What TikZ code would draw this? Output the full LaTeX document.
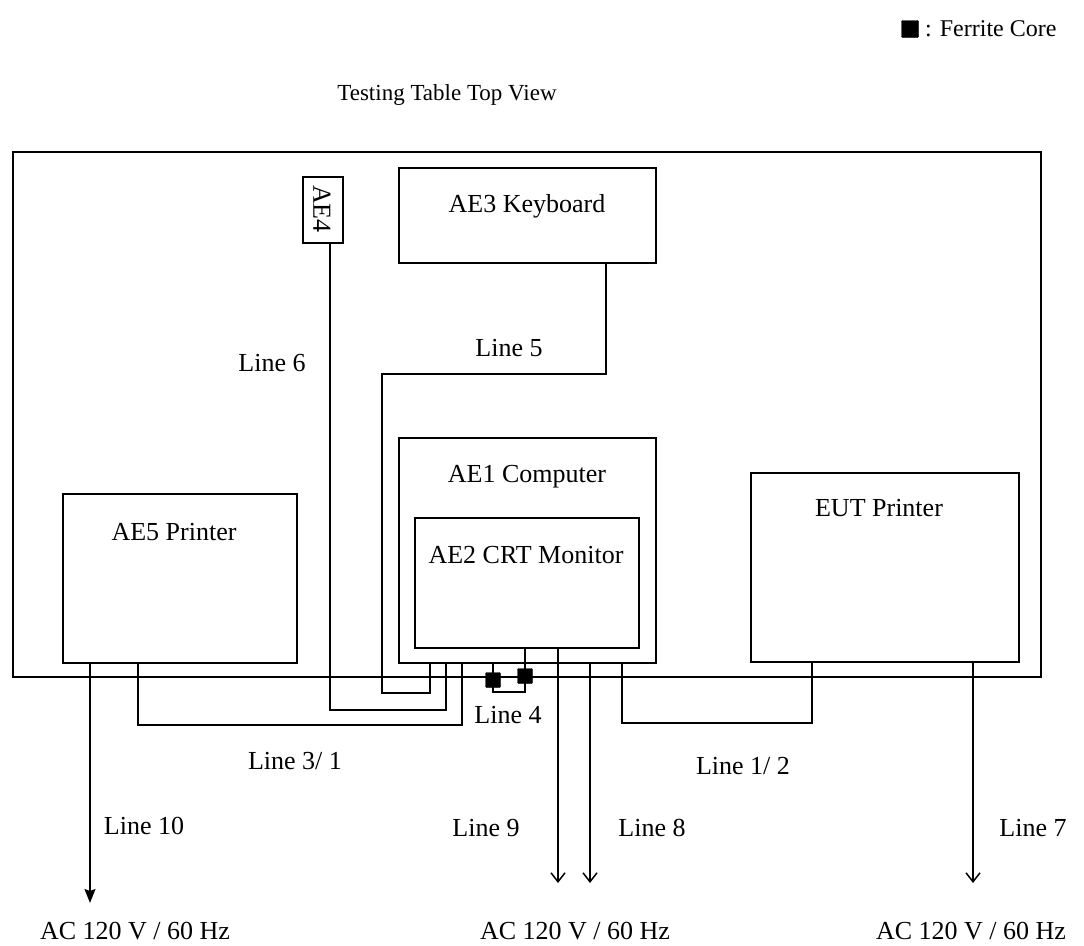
\documentclass[tikz,border=0pt]{standalone}
\usepackage{fontspec}
\setmainfont{Liberation Serif}
\usetikzlibrary{arrows.meta}
\begin{document}
\begin{tikzpicture}[x=1pt,y=-1pt,
  box/.style={draw,line width=1.5pt,inner sep=0pt,anchor=north west},
  wire/.style={line width=1.5pt},
  arr/.style={line width=1.5pt,-{Straight Barb[length=9pt,width=14pt,line width=1.5pt]}},
  farr/.style={line width=1.5pt,-{Stealth[length=14pt,width=11pt,inset=2pt]}},
  txt/.style={font=\fontsize{26}{30}\selectfont,inner sep=0pt},
  core/.style={fill=black,draw=black,minimum size=15pt,inner sep=0pt,rounded corners=1pt}]
\useasboundingbox (0,0) rectangle (1084,945);
% legend and title
\node[core,minimum size=17pt] (lcore) at (910,29) {};
\node[txt,anchor=west,font=\fontsize{24}{28}\selectfont] (legend) at (925,29) {: Ferrite Core};
\node[txt,font=\fontsize{23}{28}\selectfont] (title) at (447,95) {Testing Table Top View};
% table
\node[box,minimum width=1028pt,minimum height=525pt] (table) at (12,151) {};
% boxes
\node[box,minimum width=40pt,minimum height=66pt] (ae4) at (302,176) {};
\node[txt,rotate=-90] (ae4t) at (322,209) {AE4};
\node[box,minimum width=257pt,minimum height=95pt] (ae3) at (398,167) {};
\node[txt] (ae3t) at (527,206) {AE3 Keyboard};
\node[box,minimum width=257pt,minimum height=225pt] (ae1) at (398,437) {};
\node[txt] (ae1t) at (527,477) {AE1 Computer};
\node[box,minimum width=224pt,minimum height=130pt] (ae2) at (414,517) {};
\node[txt] (ae2t) at (526,555) {AE2 CRT Monitor};
\node[box,minimum width=234pt,minimum height=169pt] (ae5) at (62,493) {};
\node[txt] (ae5t) at (174,532) {AE5 Printer};
\node[box,minimum width=268pt,minimum height=189pt] (eut) at (750,472) {};
\node[txt] (eutt) at (879,508) {EUT Printer};
% coordinates
\coordinate (l10e) at (90,903);
\coordinate (l9e) at (558,883);
\coordinate (l8e) at (590,883);
\coordinate (l7e) at (973,883);
% Line 10
\draw[farr] (ae5.south -| l10e) -- (l10e);
% Line 3/1
\draw[wire] (ae5.south -| 138,0) -- (138,725) -| (ae1.south -| 462,0);
% Line 6
\draw[wire] (ae4.south -| 330,0) -- (330,710) -| (ae1.south -| 446,0);
% Line 5
\draw[wire] (ae3.south -| 606,0) -- (606,374) -| (382,693) -| (ae1.south -| 430,0);
% Line 4
\draw[wire] (ae2.south -| 525,0) -- (525,692) -| (ae1.south -| 493,0);
\node[core] (c1) at (493,680) {};
\node[core] (c2) at (525,676) {};
% Line 9, 8
\draw[arr] (ae2.south -| l9e) -- (l9e);
\draw[arr] (ae1.south -| l8e) -- (l8e);
% Line 1/2
\draw[wire] (ae1.south -| 622,0) -- (622,723) -| (eut.south -| 812,0);
% Line 7
\draw[arr] (eut.south -| l7e) -- (l7e);
% labels
\node[txt] (lb6) at (272,363) {Line 6};
\node[txt] (lb5) at (509,348) {Line 5};
\node[txt] (lb4) at (508,715) {Line 4};
\node[txt] (lb31) at (295,761) {Line 3/ 1};
\node[txt] (lb12) at (743,766) {Line 1/ 2};
\node[txt] (lb10) at (144,826) {Line 10};
\node[txt] (lb9) at (486,828) {Line 9};
\node[txt] (lb8) at (652,828) {Line 8};
\node[txt] (lb7) at (1033,828) {Line 7};
\node[txt] (ac1) at (135,931) {AC 120 V / 60 Hz};
\node[txt] (ac2) at (575,931) {AC 120 V / 60 Hz};
\node[txt] (ac3) at (971,931) {AC 120 V / 60 Hz};
\end{tikzpicture}
\end{document}
